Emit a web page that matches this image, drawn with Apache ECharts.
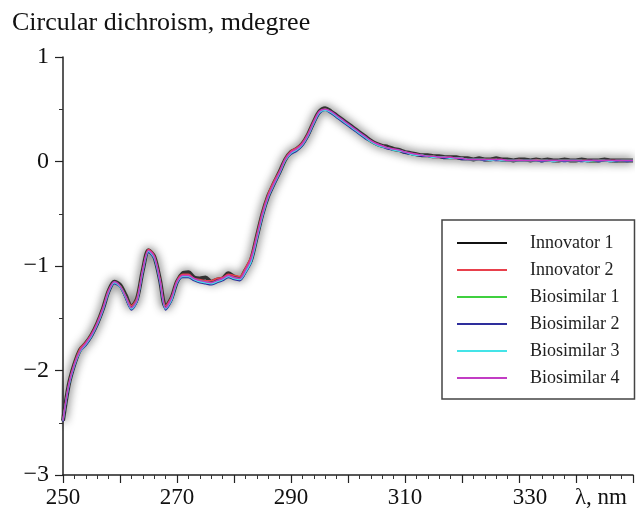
<!DOCTYPE html>
<html>
<head>
<meta charset="utf-8">
<script src="https://cdn.jsdelivr.net/npm/echarts@6/dist/echarts.min.js"></script>
<style>
  html, body { margin: 0; padding: 0; background: #fff; }
  #main { width: 640px; height: 516px; }
</style>
</head>
<body>
<div id="main"></div>
<script>
// wavelength, nm
var wavelengths = [
  250,251,252,253,254,255,256,257,258,259,
  260,261,262,263,264,265,266,267,268,269,
  270,271,272,273,274,275,276,277,278,279,
  280,281,282,283,284,285,286,287,288,289,
  290,291,292,293,294,295,296,297,298,299,
  300,301,302,303,304,305,306,307,308,309,
  310,311,312,313,314,315,316,317,318,319,
  320,321,322,323,324,325,326,327,328,329,
  330,331,332,333,334,335,336,337,338,339,
  340,341,342,343,344,345,346,347,348,349,
  350
];

// CD, mdegree
var innovator1 = [
  -2.48,-2.14,-1.94,-1.80,-1.74,-1.66,-1.55,-1.41,-1.24,-1.15,
  -1.18,-1.28,-1.39,-1.31,-1.04,-0.85,-0.91,-1.13,-1.39,-1.31,
  -1.15,-1.07,-1.06,-1.11,-1.12,-1.11,-1.15,-1.13,-1.12,-1.07,
  -1.10,-1.12,-1.04,-0.94,-0.72,-0.50,-0.33,-0.21,-0.10,0.02,
  0.09,0.12,0.17,0.26,0.38,0.48,0.51,0.48,0.44,0.40,
  0.36,0.32,0.28,0.24,0.20,0.17,0.15,0.14,0.12,0.11,
  0.09,0.08,0.07,0.06,0.06,0.05,0.05,0.04,0.04,0.04,
  0.03,0.03,0.02,0.03,0.02,0.02,0.03,0.02,0.02,0.01,
  0.02,0.02,0.01,0.02,0.01,0.02,0.01,0.01,0.02,0.01,
  0.01,0.02,0.01,0.01,0.01,0.02,0.01,0.01,0.01,0.01,
  0.01
];
var innovator2 = [
  -2.47,-2.13,-1.93,-1.79,-1.73,-1.65,-1.54,-1.40,-1.23,-1.16,
  -1.19,-1.29,-1.38,-1.30,-1.03,-0.84,-0.90,-1.12,-1.38,-1.30,
  -1.14,-1.08,-1.08,-1.12,-1.13,-1.14,-1.14,-1.12,-1.11,-1.08,
  -1.09,-1.10,-1.02,-0.91,-0.70,-0.48,-0.31,-0.19,-0.09,0.03,
  0.10,0.13,0.18,0.27,0.39,0.48,0.50,0.47,0.43,0.39,
  0.35,0.31,0.27,0.23,0.20,0.17,0.15,0.13,0.12,0.10,
  0.09,0.08,0.07,0.06,0.05,0.05,0.04,0.04,0.04,0.03,
  0.03,0.02,0.02,0.02,0.02,0.02,0.02,0.02,0.01,0.01,
  0.02,0.01,0.01,0.02,0.01,0.01,0.01,0.01,0.01,0.01,
  0.01,0.01,0.01,0.01,0.01,0.01,0.01,0.01,0.01,0.01,
  0.01
];
var biosimilar1 = [
  -2.48,-2.15,-1.95,-1.81,-1.75,-1.67,-1.56,-1.42,-1.25,-1.16,
  -1.19,-1.29,-1.40,-1.32,-1.05,-0.86,-0.92,-1.14,-1.40,-1.32,
  -1.16,-1.10,-1.10,-1.13,-1.14,-1.15,-1.16,-1.15,-1.13,-1.10,
  -1.11,-1.12,-1.05,-0.95,-0.73,-0.51,-0.34,-0.22,-0.11,0.01,
  0.08,0.11,0.16,0.25,0.37,0.47,0.50,0.47,0.43,0.39,
  0.35,0.31,0.27,0.23,0.19,0.16,0.14,0.13,0.11,0.10,
  0.09,0.07,0.06,0.06,0.05,0.05,0.04,0.04,0.03,0.03,
  0.03,0.02,0.02,0.02,0.02,0.02,0.02,0.01,0.01,0.01,
  0.01,0.01,0.01,0.01,0.01,0.01,0.01,0.01,0.01,0.01,
  0.01,0.01,0.01,0.00,0.01,0.01,0.01,0.00,0.01,0.01,
  0.01
];
var biosimilar2 = [
  -2.49,-2.16,-1.96,-1.82,-1.76,-1.68,-1.57,-1.43,-1.26,-1.17,
  -1.20,-1.31,-1.42,-1.34,-1.06,-0.87,-0.93,-1.16,-1.42,-1.34,
  -1.17,-1.11,-1.11,-1.14,-1.16,-1.17,-1.18,-1.16,-1.14,-1.11,
  -1.13,-1.14,-1.07,-0.97,-0.75,-0.53,-0.35,-0.23,-0.12,0.01,
  0.07,0.10,0.15,0.24,0.36,0.46,0.49,0.46,0.42,0.38,
  0.34,0.30,0.26,0.22,0.19,0.16,0.14,0.12,0.11,0.10,
  0.08,0.07,0.06,0.05,0.05,0.04,0.04,0.03,0.03,0.03,
  0.02,0.02,0.02,0.02,0.01,0.02,0.01,0.01,0.01,0.01,
  0.01,0.01,0.01,0.01,0.00,0.01,0.01,0.01,0.00,0.01,
  0.01,0.00,0.01,0.01,0.00,0.01,0.01,0.00,0.01,0.00,
  0.01
];
var biosimilar3 = [
  -2.48,-2.15,-1.95,-1.82,-1.75,-1.67,-1.56,-1.42,-1.25,-1.16,
  -1.20,-1.30,-1.41,-1.33,-1.05,-0.86,-0.92,-1.14,-1.41,-1.33,
  -1.16,-1.10,-1.10,-1.13,-1.15,-1.16,-1.17,-1.15,-1.13,-1.10,
  -1.12,-1.13,-1.06,-0.96,-0.74,-0.52,-0.34,-0.22,-0.11,0.01,
  0.08,0.11,0.16,0.25,0.37,0.47,0.49,0.47,0.43,0.39,
  0.35,0.31,0.27,0.23,0.19,0.16,0.14,0.13,0.11,0.10,
  0.09,0.07,0.06,0.06,0.05,0.04,0.04,0.04,0.03,0.03,
  0.03,0.02,0.02,0.02,0.02,0.01,0.02,0.01,0.01,0.01,
  0.01,0.01,0.01,0.01,0.01,0.01,0.00,0.01,0.01,0.01,
  0.01,0.01,0.00,0.01,0.01,0.01,0.00,0.01,0.01,0.01,
  0.01
];
var biosimilar4 = [
  -2.48,-2.14,-1.94,-1.81,-1.74,-1.66,-1.55,-1.41,-1.24,-1.15,
  -1.19,-1.29,-1.40,-1.32,-1.04,-0.85,-0.91,-1.13,-1.40,-1.31,
  -1.15,-1.09,-1.09,-1.12,-1.14,-1.15,-1.16,-1.14,-1.12,-1.09,
  -1.11,-1.12,-1.04,-0.93,-0.72,-0.50,-0.33,-0.21,-0.10,0.02,
  0.09,0.12,0.17,0.26,0.38,0.48,0.50,0.48,0.44,0.40,
  0.36,0.32,0.28,0.24,0.20,0.17,0.15,0.13,0.12,0.11,
  0.09,0.08,0.07,0.06,0.05,0.05,0.04,0.04,0.04,0.03,
  0.03,0.02,0.02,0.02,0.02,0.02,0.02,0.02,0.01,0.01,
  0.01,0.01,0.01,0.01,0.01,0.01,0.01,0.01,0.01,0.01,
  0.01,0.01,0.01,0.01,0.01,0.01,0.01,0.01,0.01,0.01,
  0.01
];

var names = ['Innovator 1', 'Innovator 2', 'Biosimilar 1', 'Biosimilar 2', 'Biosimilar 3', 'Biosimilar 4'];
var colors = ['#111111', '#e8404c', '#3fd03f', '#2e2e9c', '#44e4e8', '#c23cc4'];
var curves = [innovator1, innovator2, biosimilar1, biosimilar2, biosimilar3, biosimilar4];

var serif = '"Liberation Serif", "DejaVu Serif", serif';

function pairs(vals) {
  return wavelengths.map(function (w, i) { return [w, vals[i]]; });
}

var chart = echarts.init(document.getElementById('main'), null, { renderer: 'canvas' });

var series = curves.map(function (c, i) {
  var s = {
    name: names[i],
    type: 'line',
    data: pairs(c),
    showSymbol: false,
    smooth: 0.3,
    color: colors[i],
    lineStyle: { width: 1.5, color: colors[i] },
    z: 2 + i
  };
  if (i === 0) {
    // noisy raw scans give a grey halo round the black trace
    s.lineStyle = { width: 4, color: '#333', shadowColor: 'rgba(0,0,0,0.85)', shadowBlur: 10 };
  }
  return s;
});

var option = {
  animation: false,
  backgroundColor: '#fff',
  title: {
    text: 'Circular dichroism, mdegree',
    left: 12,
    top: 10,
    padding: 0,
    textStyle: { fontFamily: serif, fontSize: 26, fontWeight: 'normal', color: '#111' }
  },
  grid: { left: 63, right: 7, top: 57, bottom: 41, containLabel: false },
  legend: {
    data: names,
    orient: 'vertical',
    left: 442,
    top: 220,
    padding: [14, 15, 12, 15],
    itemWidth: 50,
    itemHeight: 2,
    itemGap: 9,
    icon: 'rect',
    backgroundColor: '#fff',
    borderColor: '#444',
    borderWidth: 1.5,
    borderRadius: 0,
    textStyle: { fontFamily: serif, fontSize: 18, color: '#222', padding: [0, 0, 0, 18] }
  },
  xAxis: {
    type: 'value',
    min: 250,
    max: 350,
    interval: 10,
    name: 'λ, nm',
    nameLocation: 'end',
    nameGap: 0,
    nameTextStyle: { fontFamily: serif, fontSize: 23, color: '#111', align: 'right', verticalAlign: 'top', padding: [11, 6, 0, 0] },
    splitLine: { show: false },
    axisLine: { onZero: false, lineStyle: { color: '#222', width: 1.5 } },
    axisTick: { length: 8, lineStyle: { color: '#222', width: 1.2 } },
    minorTick: { show: true, splitNumber: 5, length: 4, lineStyle: { color: '#333', width: 1 } },
    axisLabel: {
      margin: 11,
      fontFamily: serif,
      fontSize: 23,
      color: '#111',
      formatter: function (v) {
        if (v === 330) return '{s|330}';
        if (v < 350 && (v - 250) % 20 === 0) return String(v);
        return '';
      },
      rich: { s: { fontFamily: serif, fontSize: 23, color: '#111', padding: [0, 0, 0, 22] } }
    }
  },
  yAxis: {
    type: 'value',
    min: -3,
    max: 1,
    interval: 1,
    splitLine: { show: false },
    axisLine: { show: true, onZero: false, lineStyle: { color: '#222', width: 1.5 } },
    axisTick: { show: true, length: 8, lineStyle: { color: '#222', width: 1.2 } },
    minorTick: { show: true, splitNumber: 2, length: 4, lineStyle: { color: '#333', width: 1 } },
    axisLabel: {
      margin: 14,
      fontFamily: serif,
      fontSize: 24,
      color: '#111',
      formatter: function (v) { return String(v).replace('-', '\u2212'); }
    }
  },
  series: series
};

chart.setOption(option);
</script>
</body>
</html>
